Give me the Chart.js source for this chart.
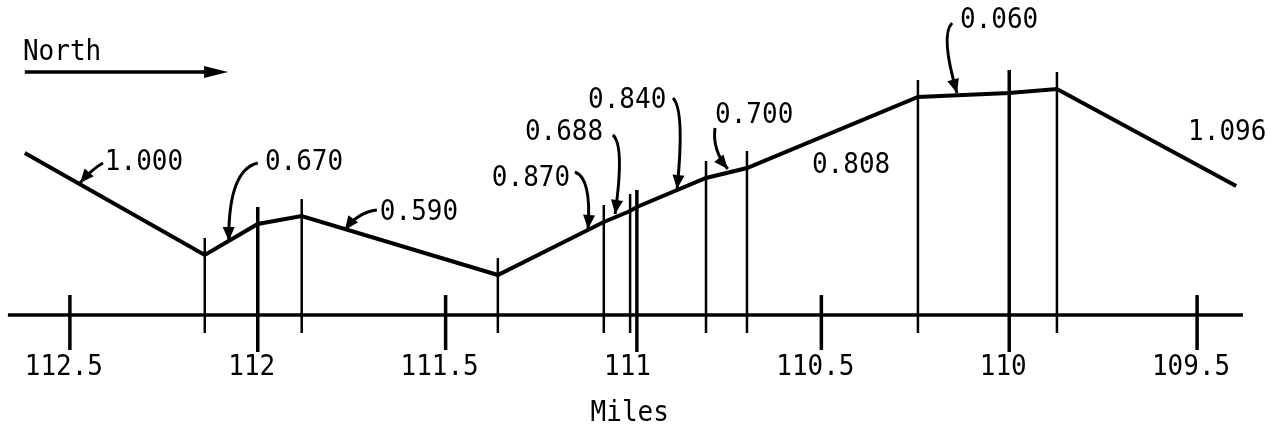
<!DOCTYPE html>
<html>
<head>
  <meta charset="utf-8" />
  <title>Miles profile</title>
  <style>
    body { margin: 0; background: #fff; }
    #wrap { width: 1279px; height: 430px; }
  </style>
</head>
<body>
  <div id="wrap"><canvas id="stage"></canvas></div>

  <script src="https://cdn.jsdelivr.net/npm/chart.js@4.4.0/dist/chart.umd.min.js"></script>
  <script>
    // profile break points (miles) and relative height above the baseline
    const miles   = [112.62, 112.141, 112.0, 111.883, 111.361, 111.079, 111.009, 110.991, 110.807, 110.698, 110.243, 110.0, 109.873, 109.396];
    const heights = [162, 60, 91, 99, 40, 93, 104, 108, 137, 147, 218, 222, 226, 129];

    // value written for each segment (between miles[i] and miles[i+1])
    const segmentValues = ['1.000', '0.670', null, '0.590', '0.870', '0.688', null, '0.840', '0.700', '0.808', '0.060', null, '1.096'];

    // axis ticks
    const majorBounds = [112.0, 110.991, 110.0];
    const halfTicks   = [112.5, 111.5, 110.5, 109.5];
    const tickValues  = [112.5, 112, 111.5, 111, 110.5, 110, 109.5];
    const tickLabels  = ['112.5', '112', '111.5', '111', '110.5', '110', '109.5'];

    // where each segment value is written, and the arrow to its segment
    const labelPos = [
      [112.407, 153], [111.981, 153], null, [111.675, 103], [111.377, 137],
      [111.289, 183], null, [111.121, 215], [110.783, 200], [110.525, 150],
      [110.131, 295], null, [109.524, 183]
    ];
    const arrows = [
      [[112.412, 152], [112.441, 146], [112.473, 132]],
      [[112.000, 152], [112.079, 145], [112.077, 74]],
      null,
      [[111.683, 105], [111.733, 103], [111.768, 85]],
      [[111.156, 143], [111.111, 137], [111.121, 86]],
      [[111.055, 180], [111.023, 170], [111.049, 101]],
      null,
      [[110.895, 217], [110.863, 205], [110.884, 126]],
      [[110.783, 187], [110.791, 165], [110.749, 146]],
      null,
      [[110.152, 292], [110.184, 280], [110.139, 222]],
      null,
      null
    ];

    const FONT = '26px "DejaVu Sans Mono", monospace';

    function arrowHead(ctx, fx, fy, tx, ty, len, half) {
      const a = Math.atan2(ty - fy, tx - fx);
      ctx.beginPath();
      ctx.moveTo(tx, ty);
      ctx.lineTo(tx - len * Math.cos(a) + half * Math.sin(a), ty - len * Math.sin(a) - half * Math.cos(a));
      ctx.lineTo(tx - len * Math.cos(a) - half * Math.sin(a), ty - len * Math.sin(a) + half * Math.cos(a));
      ctx.closePath();
      ctx.fill();
    }

    // the typed labels are a bit taller than the plain font
    function text(ctx, s, x, y) {
      ctx.save();
      ctx.translate(x, y);
      ctx.scale(1, 1.12);
      ctx.fillText(s, 0, 0);
      ctx.restore();
    }

    const drawing = {
      id: 'drawing',
      afterDatasetsDraw(chart) {
        const ctx = chart.ctx;
        const xs = chart.scales.x, ys = chart.scales.y;
        const X = v => xs.getPixelForValue(v);
        const Y = v => ys.getPixelForValue(v);
        ctx.save();
        ctx.strokeStyle = '#000';
        ctx.fillStyle = '#000';
        ctx.lineCap = 'butt';

        // baseline
        ctx.lineWidth = 3.5;
        ctx.beginPath();
        ctx.moveTo(X(112.665), Y(0));
        ctx.lineTo(X(109.378), Y(0));
        ctx.stroke();

        // segment boundaries
        for (let i = 1; i < miles.length - 1; i++) {
          const major = majorBounds.includes(miles[i]);
          ctx.lineWidth = major ? 3.5 : 2.5;
          ctx.beginPath();
          ctx.moveTo(X(miles[i]), Y(heights[i] + (miles[i] === 110.0 ? 23 : 17)));
          ctx.lineTo(X(miles[i]), Y(major ? -37 : -18));
          ctx.stroke();
        }

        // half-mile ticks
        ctx.lineWidth = 3.5;
        halfTicks.forEach(t => {
          ctx.beginPath();
          ctx.moveTo(X(t), Y(20));
          ctx.lineTo(X(t), Y(-35));
          ctx.stroke();
        });

        ctx.font = FONT;
        ctx.textBaseline = 'middle';

        // tick labels
        ctx.textAlign = 'center';
        tickValues.forEach((t, i) => text(ctx, tickLabels[i], X(t) - 6, Y(-52)));

        // axis title
        text(ctx, 'Miles', X(111.01), Y(-98));

        // segment values and arrows
        ctx.textAlign = 'left';
        segmentValues.forEach((s, i) => {
          if (!s) return;
          const p = labelPos[i];
          text(ctx, s, X(p[0]), Y(p[1]));
          const a = arrows[i];
          if (!a) return;
          ctx.lineWidth = 3;
          ctx.beginPath();
          ctx.moveTo(X(a[0][0]), Y(a[0][1]));
          ctx.quadraticCurveTo(X(a[1][0]), Y(a[1][1]), X(a[2][0]), Y(a[2][1]));
          ctx.stroke();
          arrowHead(ctx, X(a[1][0]), Y(a[1][1]), X(a[2][0]), Y(a[2][1]), 14, 6);
        });

        // North arrow
        text(ctx, 'North', X(112.625), Y(263));
        ctx.lineWidth = 3.5;
        ctx.beginPath();
        ctx.moveTo(X(112.62), Y(243));
        ctx.lineTo(X(112.12), Y(243));
        ctx.stroke();
        arrowHead(ctx, X(112.62), Y(243), X(112.079), Y(243), 24, 6);

        ctx.restore();
      }
    };

    new Chart(document.getElementById('stage'), {
      type: 'line',
      data: {
        datasets: [{
          data: miles.map((m, i) => ({ x: m, y: heights[i] })),
          borderColor: '#000',
          borderWidth: 4,
          pointRadius: 0,
          tension: 0,
          fill: false
        }]
      },
      options: {
        responsive: true,
        maintainAspectRatio: false,
        animation: false,
        layout: { padding: 0 },
        plugins: { legend: { display: false }, tooltip: { enabled: false } },
        scales: {
          x: { type: 'linear', reverse: true, min: 109.282, max: 112.686, display: false },
          y: { min: -115, max: 315, display: false }
        }
      },
      plugins: [drawing]
    });
  </script>
</body>
</html>
